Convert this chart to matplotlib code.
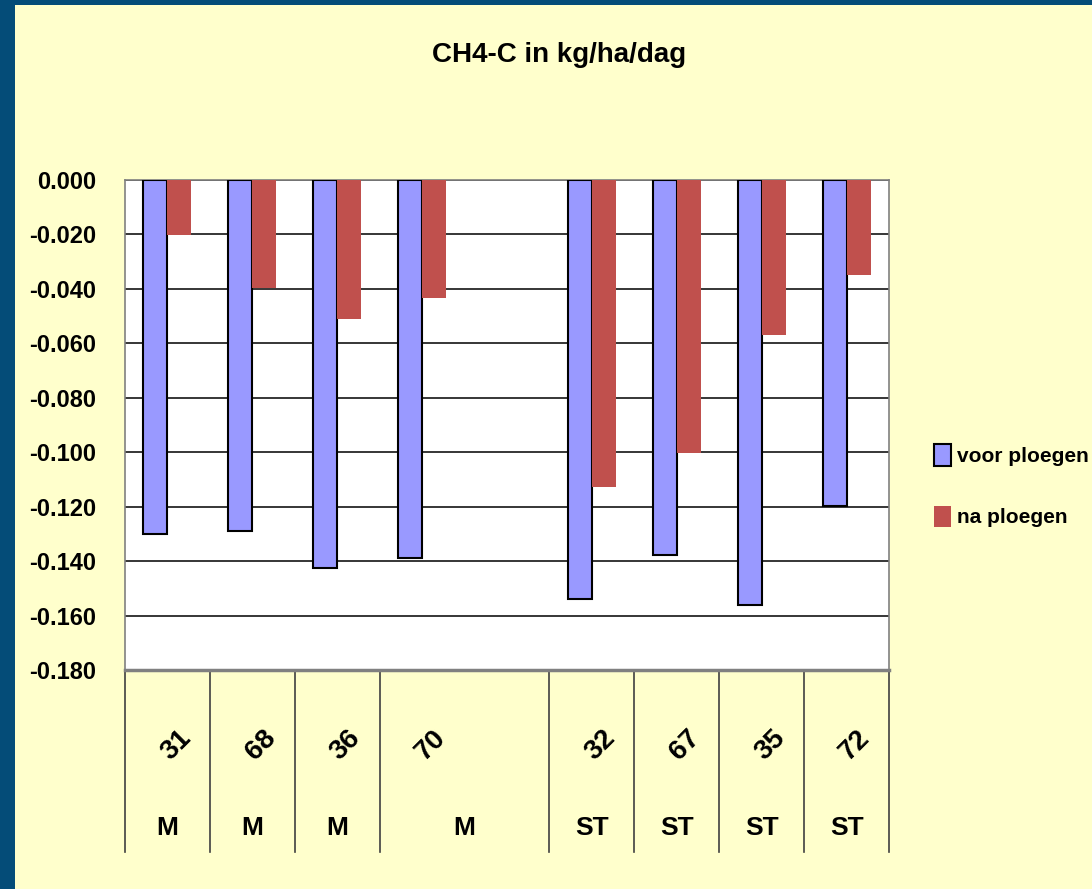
import numpy as np
import matplotlib
matplotlib.use("Agg")
import matplotlib.pyplot as plt
from matplotlib.patches import Rectangle
import matplotlib.transforms as mtransforms

plt.rcParams['font.family'] = ['Liberation Sans', 'DejaVu Sans']

title = "CH4-C in kg/ha/dag"
# one slot is empty (between 70 and 32)
plots = ['31', '68', '36', '70', '', '32', '67', '35', '72']
groups = ['M', 'M', 'M', 'M', 'ST', 'ST', 'ST', 'ST']
group_spans = [1, 1, 1, 2, 1, 1, 1, 1]
voor = [-0.130, -0.129, -0.1425, -0.139, np.nan, -0.154, -0.1378, -0.156, -0.1198]
na = [-0.0202, -0.0397, -0.0512, -0.0432, np.nan, -0.1128, -0.1003, -0.057, -0.0349]
yticks = np.arange(-0.18, 0.001, 0.02)

blue = '#9999FF'
red = '#C0504D'
bg = '#FFFFCC'
border = '#044C78'

fig = plt.figure(figsize=(10.92, 8.89), dpi=100)
fig.patch.set_facecolor(bg)
# dark blue frame
fig.patches.append(Rectangle((0, 0), 15 / 1092, 1, transform=fig.transFigure,
                             facecolor=border, edgecolor='none', zorder=0))
fig.patches.append(Rectangle((0, 1 - 5 / 889), 1, 5 / 889, transform=fig.transFigure,
                             facecolor=border, edgecolor='none', zorder=0))

ax = fig.add_axes([125 / 1092, (889 - 670) / 889, 764 / 1092, 490 / 889])
ax.set_facecolor('white')

x = np.arange(len(plots))
w = 0.283
ax.bar(x - w / 2, voor, width=w, color=blue, edgecolor='black', linewidth=1.5,
       label='voor ploegen', zorder=3)
ax.bar(x + w / 2, na, width=w, color=red, edgecolor='none', label='na ploegen', zorder=3)

ax.set_xlim(-0.5, len(plots) - 0.5)
ax.set_ylim(-0.18, 0)
ax.set_yticks(yticks)
ax.set_yticklabels([f"{v:.3f}" if abs(v) > 1e-9 else "0.000" for v in yticks],
                   fontsize=17, fontweight='bold')
ax.tick_params(axis='y', length=0, pad=21)
ax.set_xticks([])
ax.grid(axis='y', color='black', linewidth=1.1, zorder=1)
for s in ['top', 'left', 'right']:
    ax.spines[s].set_color('#808080')
    ax.spines[s].set_linewidth(1.2)
ax.spines['bottom'].set_color('#808080')
ax.spines['bottom'].set_linewidth(2.5)

# category separators and labels below the axis
trans = mtransforms.blended_transform_factory(ax.transData, ax.transAxes)
bounds = [-0.5]
pos = -0.5
for sp in group_spans:
    pos += sp
    bounds.append(pos)
for b in bounds:
    ax.plot([b, b], [0, -0.371], transform=trans, color='#404040', linewidth=1.2,
            clip_on=False)
for i, lab in enumerate(plots):
    if lab:
        ax.text(i + 0.1, -0.153, lab, transform=trans, rotation=45, ha='center',
                va='center', fontsize=20, fontweight='bold')
for i, lab in enumerate(groups):
    ax.text((bounds[i] + bounds[i + 1]) / 2, -0.322, lab, transform=trans,
            ha='center', va='center', fontsize=19, fontweight='bold')

fig.text(559 / 1092, 1 - 55 / 889, title, ha='center', va='center',
         fontsize=20, fontweight='bold')

leg = fig.legend(loc='upper left', bbox_to_anchor=(926 / 1092, 1 - 436 / 889),
                 frameon=False, prop={'size': 15, 'weight': 'bold'},
                 handlelength=0.8, handleheight=1.2, handletextpad=0.3,
                 labelspacing=1.9, borderaxespad=0)

fig.savefig('out.png', dpi=100, facecolor=fig.get_facecolor())
